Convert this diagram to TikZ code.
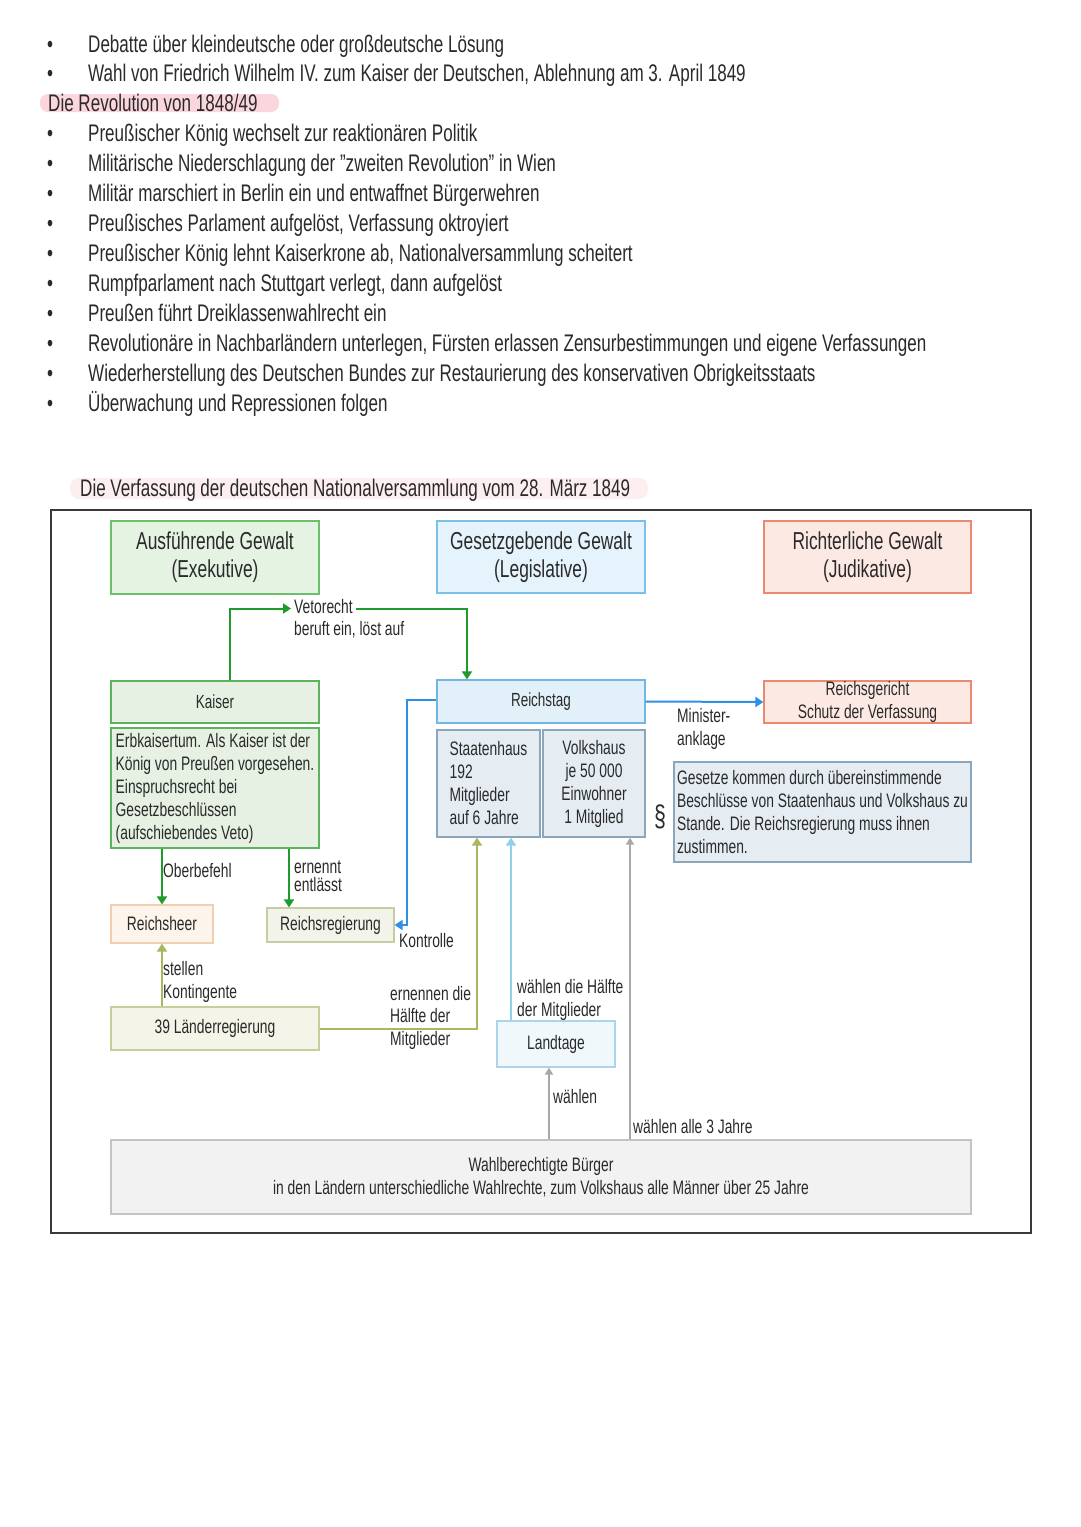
\documentclass[tikz,border=0pt]{standalone}
\usepackage{fontspec}
\setmainfont{Liberation Sans}[FakeStretch=0.71]
\usetikzlibrary{arrows.meta,calc}
\definecolor{txt}{HTML}{2A2A2A}
\definecolor{frame}{HTML}{3A3A3A}
\definecolor{hlA}{HTML}{FBD6DD}
\definecolor{hlB}{HTML}{FDEEF0}
\definecolor{gF}{HTML}{E4F3E2}
\definecolor{gB}{HTML}{6CC06C}
\definecolor{kF}{HTML}{E6F0E3}
\definecolor{kB}{HTML}{5CB35C}
\definecolor{bF}{HTML}{E5F3FC}
\definecolor{bB}{HTML}{7CC0EA}
\definecolor{rF}{HTML}{E2F0F9}
\definecolor{rB}{HTML}{72B7E3}
\definecolor{pF}{HTML}{FDE9E4}
\definecolor{pB}{HTML}{E9896F}
\definecolor{sF}{HTML}{E6EDF2}
\definecolor{sB}{HTML}{8BA5BA}
\definecolor{hF}{HTML}{FDF4EC}
\definecolor{hB}{HTML}{F2CFAE}
\definecolor{yF}{HTML}{F3F4E9}
\definecolor{yB}{HTML}{C9CBA4}
\definecolor{lF}{HTML}{F4F5E8}
\definecolor{lB}{HTML}{C5CF9A}
\definecolor{tF}{HTML}{F1F8FC}
\definecolor{tB}{HTML}{AAD5EB}
\definecolor{wF}{HTML}{F2F2F2}
\definecolor{wB}{HTML}{C4C4C4}
\definecolor{garr}{HTML}{1E9B2A}
\definecolor{barr}{HTML}{2D8FE6}
\definecolor{oarr}{HTML}{A9B860}
\definecolor{lbarr}{HTML}{8FD0EA}
\definecolor{grarr}{HTML}{A8A8A8}
\begin{document}
\begin{tikzpicture}[x=1pt,y=-1pt,
  every node/.style={inner sep=0pt, text=txt},
  bigtxt/.style={font=\fontsize{24}{30}\selectfont},
  hdrtxt/.style={font=\fontsize{24.5}{28}\selectfont},
  midtxt/.style={font=\fontsize{19}{23}\selectfont},
  smtxt/.style={font=\fontsize{19.5}{23}\selectfont},
  box/.style={draw, line width=1.2pt, inner sep=0pt},
  bline/.style={anchor=base west, bigtxt},
  lab/.style={anchor=base west, smtxt},
  tipA/.style={-{Triangle[width=10pt,length=8pt]}},
  tipB/.style={-{Triangle[width=8pt,length=7pt]}},
  garrow/.style={draw=garr, line width=2pt, tipA},
  barrow/.style={draw=barr, line width=2pt, tipA},
  oarrow/.style={draw=oarr, line width=2pt, tipA},
  lbarrow/.style={draw=lbarr, line width=2pt, tipA},
  grarrow/.style={draw=grarr, line width=1.6pt, tipB}
]
\useasboundingbox[fill=white] (0,0) rectangle (1080,1527);

% ---- bullet list ----
\foreach \yy/\tt [count=\i] in {
  44/Debatte über kleindeutsche oder großdeutsche Lösung,
  73/Wahl von Friedrich Wilhelm IV. zum Kaiser der Deutschen{,} Ablehnung am 3. April 1849,
  133/Preußischer König wechselt zur reaktionären Politik,
  163/Militärische Niederschlagung der "zweiten Revolution" in Wien,
  193/Militär marschiert in Berlin ein und entwaffnet Bürgerwehren,
  223/Preußisches Parlament aufgelöst{,} Verfassung oktroyiert,
  253/Preußischer König lehnt Kaiserkrone ab{,} Nationalversammlung scheitert,
  283/Rumpfparlament nach Stuttgart verlegt{,} dann aufgelöst,
  313/Preußen führt Dreiklassenwahlrecht ein,
  343/Revolutionäre in Nachbarländern unterlegen{,} Fürsten erlassen Zensurbestimmungen und eigene Verfassungen,
  373/Wiederherstellung des Deutschen Bundes zur Restaurierung des konservativen Obrigkeitsstaats,
  403/Überwachung und Repressionen folgen}{
  \node[bline] (bul\i) at (47,\yy+8.5) {•};
  \node[bline] (btx\i) at (88,\yy+8.5) {\tt};
}

\fill[hlA, rounded corners=8pt] (40,94) rectangle (279,112);
\node[bline] (revhead) at (48,103+8.5) {Die Revolution von 1848/49};

\fill[hlB, rounded corners=9pt] (70,478) rectangle (648,499);
\node[bline] (title) at (80,488+8.5) {Die Verfassung der deutschen Nationalversammlung vom 28. März 1849};

% ---- frame ----
\draw[draw=frame, line width=1.3pt] (51,510) rectangle (1031,1233);

% ---- boxes ----
\node[box, draw=gB, fill=gF, minimum width=208, minimum height=73, hdrtxt, align=center] (exek) at (215,557.5) {Ausführende Gewalt\\(Exekutive)};
\node[box, draw=bB, fill=bF, minimum width=208, minimum height=72, hdrtxt, align=center] (legis) at (541,557) {Gesetzgebende Gewalt\\(Legislative)};
\node[box, draw=pB, fill=pF, minimum width=207, minimum height=72, hdrtxt, align=center] (judik) at (867.5,557) {Richterliche Gewalt\\(Judikative)};

\node[box, draw=kB, fill=kF, minimum width=208, minimum height=42, midtxt] (kaiser) at (215,702) {Kaiser};
\node[box, draw=kB, fill=kF, minimum width=208, minimum height=120, smtxt, align=left] (kdesc) at (215,788) {Erbkaisertum. Als Kaiser ist der\\König von Preußen vorgesehen.\\Einspruchsrecht bei\\Gesetzbeschlüssen\\(aufschiebendes Veto)};

\node[box, draw=rB, fill=rF, minimum width=208, minimum height=43, midtxt] (rstag) at (541,701.5) {Reichstag};
\node[box, draw=sB, fill=sF, minimum width=103, minimum height=107, smtxt, align=left] (staat) at (488.5,783.5) {Staatenhaus\\192\\Mitglieder\\auf 6 Jahre};
\node[box, draw=sB, fill=sF, minimum width=102, minimum height=107, smtxt, align=center] (volk) at (594,783.5) {Volkshaus\\je 50 000\\Einwohner\\1 Mitglied};

\node[box, draw=pB, fill=pF, minimum width=207, minimum height=42, smtxt, align=center] (rgericht) at (867.5,702) {Reichsgericht\\Schutz der Verfassung};
\node[box, draw=sB, fill=sF, minimum width=297, minimum height=100, smtxt, align=left] (gesetze) at (822.5,812) {Gesetze kommen durch übereinstimmende\\Beschlüsse von Staatenhaus und Volkshaus zu\\Stande. Die Reichsregierung muss ihnen\\zustimmen.};
\node[font=\fontsize{30}{30}\selectfont] (para) at (660,817) {§};

\node[box, draw=hB, fill=hF, minimum width=102, minimum height=38, smtxt] (heer) at (162,924) {Reichsheer};
\node[box, draw=yB, fill=yF, minimum width=127, minimum height=34, smtxt] (rreg) at (330.5,925) {Reichsregierung};
\node[box, draw=lB, fill=lF, minimum width=208, minimum height=43, smtxt] (laender) at (215,1028.5) {39 Länderregierung};
\node[box, draw=tB, fill=tF, minimum width=118, minimum height=46, smtxt] (landtage) at (556,1044) {Landtage};
\node[box, draw=wB, fill=wF, minimum width=860, minimum height=74, smtxt, align=center] (wahl) at (541,1177) {Wahlberechtigte Bürger\\in den Ländern unterschiedliche Wahlrechte, zum Volkshaus alle Männer über 25 Jahre};

% ---- labels ----
\node[lab] (veto) at (294,607+6.5) {Vetorecht};
\node[lab] (beruft) at (294,629+6.5) {beruft ein, löst auf};
\node[lab] (minA) at (677,716+6.5) {Minister-};
\node[lab] (minB) at (677,739+6.5) {anklage};
\node[lab] (oberb) at (163,871+6.5) {Oberbefehl};
\node[lab] (ernA) at (294,867+6.5) {ernennt};
\node[lab] (ernB) at (294,885+6.5) {entlässt};
\node[lab] (kontr) at (399,941+6.5) {Kontrolle};
\node[lab] (stA) at (163,969+6.5) {stellen};
\node[lab] (stB) at (163,992+6.5) {Kontingente};
\node[lab] (enA) at (390,994+6.5) {ernennen die};
\node[lab] (enB) at (390,1016+6.5) {Hälfte der};
\node[lab] (enC) at (390,1039+6.5) {Mitglieder};
\node[lab] (whA) at (517,987+6.5) {wählen die Hälfte};
\node[lab] (whB) at (517,1010+6.5) {der Mitglieder};
\node[lab] (wl) at (553,1097+6.5) {wählen};
\node[lab] (wl3) at (633,1127+6.5) {wählen alle 3 Jahre};

% ---- connectors ----
\coordinate (vetoin) at ($(veto.base west)+(-3,-5)$);
\coordinate (vetoout) at ($(veto.base east)+(3,-5)$);
\draw[garrow] ([xshift=15pt]kaiser.north) |- (vetoin);
\draw[garrow] (vetoout) -| ([xshift=-74pt]rstag.north);

\draw[garrow] (kdesc.south -| heer.north) -- (heer.north);
\coordinate (rregin) at ([xshift=-41.5pt]rreg.north);
\draw[garrow] (kdesc.south -| rregin) -- (rregin);

\draw[barrow] ([yshift=2pt]rstag.west) -- ++(-29,0) |- (rreg.east);
\draw[barrow] (rstag.east) -- (rgericht.west);

\draw[oarrow] (laender.north -| heer.south) -- (heer.south);
\draw[oarrow] (laender.east) -| ([xshift=-11.5pt]staat.south);

\coordinate (ltout) at ([xshift=-45pt]landtage.north);
\draw[lbarrow] (ltout) -- (ltout |- staat.south);

\coordinate (wout1) at ([xshift=8pt]wahl.north);
\draw[grarrow] (wout1) -- (wout1 |- landtage.south);
\coordinate (wout2) at ([xshift=89pt]wahl.north);
\draw[grarrow] (wout2) -- (wout2 |- volk.south);
\end{tikzpicture}
\end{document}
